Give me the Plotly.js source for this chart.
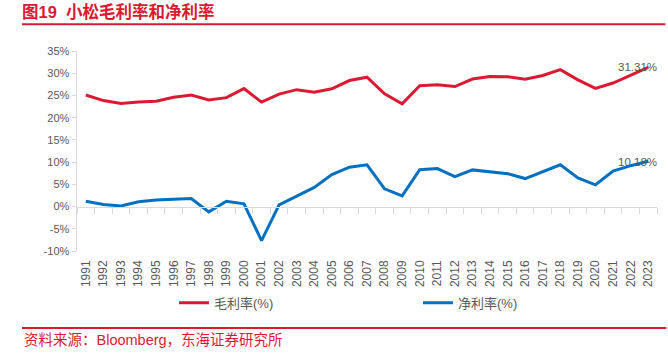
<!DOCTYPE html>
<html>
<head>
<meta charset="utf-8">
<script src="https://cdn.plot.ly/plotly-3.0.1.min.js"></script>
<style>html,body{margin:0;padding:0;background:#fff;}#chart{width:668px;height:353px;}</style>
</head>
<body>
<div id="chart"></div>
<script>
const years = ['1991','1992','1993','1994','1995','1996','1997','1998','1999','2000','2001','2002','2003','2004','2005','2006','2007','2008','2009','2010','2011','2012','2013','2014','2015','2016','2017','2018','2019','2020','2021','2022','2023'];
const grossMargin = [25.1,23.85,23.2,23.55,23.7,24.6,25.1,24.0,24.5,26.55,23.5,25.3,26.3,25.7,26.5,28.35,29.1,25.35,23.1,27.2,27.4,27.0,28.7,29.25,29.2,28.65,29.5,30.8,28.5,26.6,27.8,29.5,31.31];
const netMargin = [1.2,0.45,0.15,1.1,1.5,1.7,1.8,-1.2,1.2,0.6,-7.65,0.4,2.3,4.3,7.2,8.85,9.4,4.0,2.4,8.3,8.55,6.75,8.25,7.8,7.4,6.3,7.9,9.4,6.45,4.9,8.0,9.2,10.18];
const seriesNames = ['毛利率(%)','净利率(%)'];
const titleText = '图19  小松毛利率和净利率';
const sourceText = '资料来源：Bloomberg，东海证券研究所';
const yTicks = [-10,-5,0,5,10,15,20,25,30,35];

const RED = '#DA1A32', BLUE = '#0070C0', GRAY = '#595959', AX = '#D9D9D9';
const FONT = 'Liberation Sans, Arial, Noto Sans CJK SC, sans-serif';

const W = 668, H = 353;
const L = 77, R = 11.3, T = 50.7, B = 102.3;
const pw = W - L - R, ph = H - T - B;
const px = v => (v - L) / pw;
const py = v => (H - B - v) / ph;

const last = years.length - 1;

const traces = [
  {x: years, y: grossMargin, name: seriesNames[0], type: 'scatter', mode: 'lines',
   line: {color: RED, width: 3}, xaxis: 'x', yaxis: 'y'},
  {x: years, y: netMargin, name: seriesNames[1], type: 'scatter', mode: 'lines',
   line: {color: BLUE, width: 3}, xaxis: 'x2', yaxis: 'y'}
];

const layout = {
  width: W, height: H,
  margin: {l: L, r: R, t: T, b: B, pad: 0},
  paper_bgcolor: '#fff', plot_bgcolor: '#fff',
  font: {family: FONT, color: GRAY},
  title: {text: '<b>' + titleText + '</b>', font: {family: 'Liberation Sans, Noto Sans CJK SC, sans-serif', size: 16.5, color: RED},
    xref: 'container', yref: 'container', x: 22 / W, xanchor: 'left', y: 1 - 12.5 / H, yanchor: 'middle'},
  showlegend: true,
  legend: {orientation: 'h', xref: 'container', yref: 'container', x: 174 / W, xanchor: 'left',
    y: 1 - 302.7 / H, yanchor: 'middle', font: {size: 13, color: GRAY, family: FONT},
    entrywidth: 199, entrywidthmode: 'pixels', bgcolor: 'rgba(0,0,0,0)', borderwidth: 0},
  xaxis: {type: 'category', categoryarray: years, range: [-0.5, years.length - 0.5],
    showline: false, ticks: '', showgrid: false, zeroline: false, tickangle: -90,
    tickfont: {size: 12, color: GRAY, family: FONT}, ticklabelstandoff: 6, fixedrange: true},
  xaxis2: {type: 'category', categoryarray: years, range: [-0.5, years.length - 0.5], overlaying: 'x',
    anchor: 'free', position: 10 / 45, side: 'bottom', showline: true, linecolor: AX, linewidth: 1.5,
    ticks: 'outside', tickson: 'boundaries', ticklen: 6, tickcolor: AX, tickwidth: 1,
    showticklabels: false, showgrid: false, zeroline: false},
  yaxis: {range: [-10, 35], tickvals: yTicks, ticktext: yTicks.map(v => v + '%'),
    showline: true, linecolor: AX, linewidth: 1.5, ticks: 'outside', ticklen: 4, tickcolor: AX,
    showgrid: false, zeroline: false, tickfont: {size: 11, color: GRAY, family: FONT}},
  shapes: [
    {type: 'line', xref: 'paper', yref: 'paper', x0: px(22), x1: px(665), y0: py(24), y1: py(24),
     line: {color: RED, width: 2}},
    {type: 'line', xref: 'paper', yref: 'paper', x0: px(22), x1: px(666), y0: py(327.7), y1: py(327.7),
     line: {color: RED, width: 2}}
  ],
  annotations: [
    {x: last, y: grossMargin[last], xref: 'x', yref: 'y', text: grossMargin[last].toFixed(2) + '%',
     showarrow: false, xanchor: 'right', yanchor: 'middle', xshift: 11, font: {size: 11.5, color: GRAY, family: FONT}},
    {x: last, y: netMargin[last], xref: 'x', yref: 'y', text: netMargin[last].toFixed(2) + '%',
     showarrow: false, xanchor: 'right', yanchor: 'middle', xshift: 11, yshift: -1, font: {size: 11.5, color: GRAY, family: FONT}},
    {x: px(22), y: py(339.3), xref: 'paper', yref: 'paper', text: sourceText, showarrow: false,
     xanchor: 'left', yanchor: 'middle', font: {size: 14.5, color: RED, family: FONT}}
  ]
};

Plotly.newPlot('chart', traces, layout, {staticPlot: true, displayModeBar: false});
</script>
</body>
</html>
